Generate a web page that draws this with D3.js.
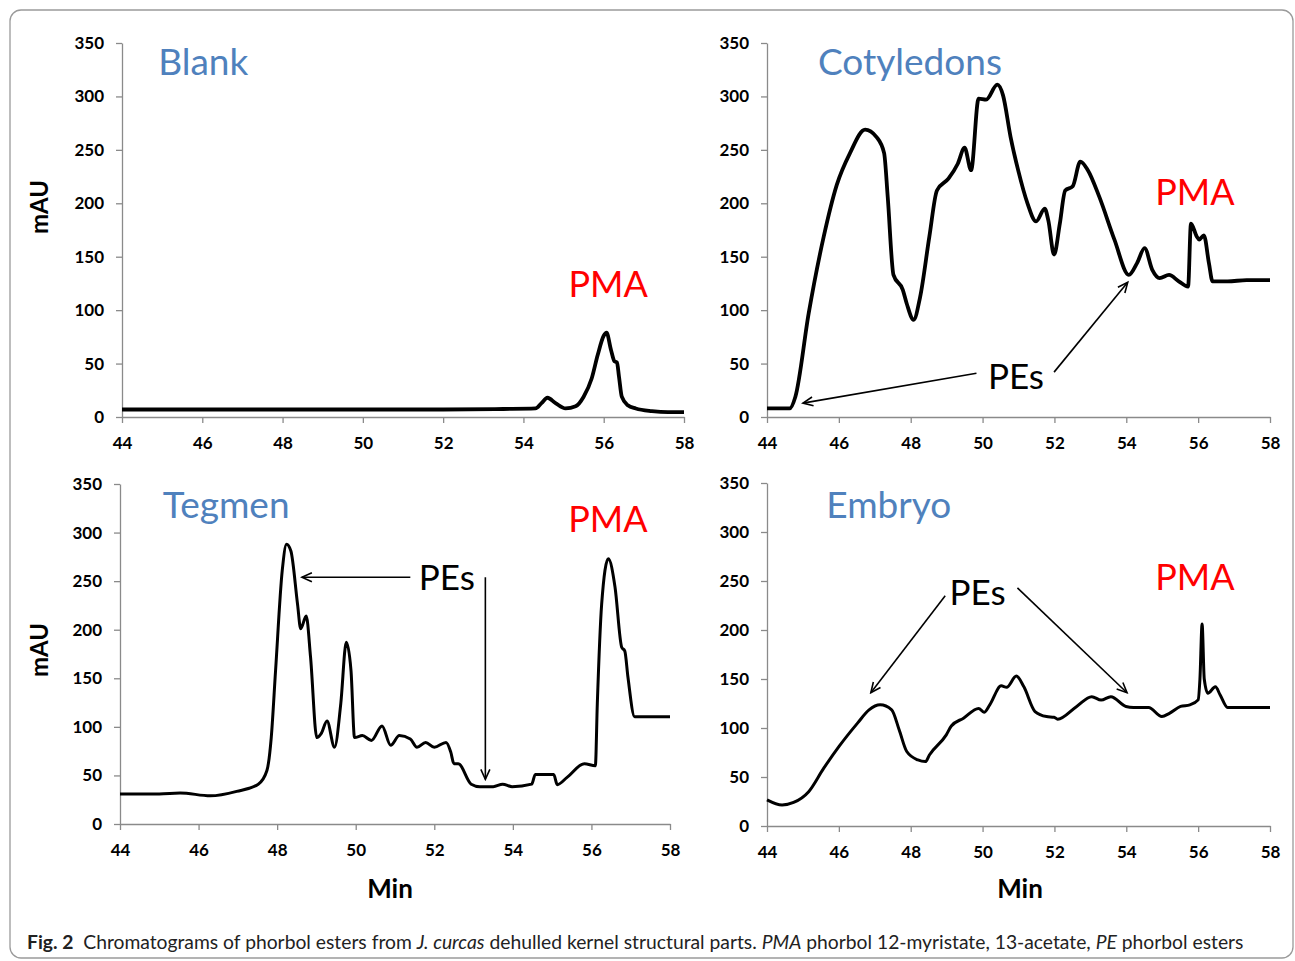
<!DOCTYPE html>
<html>
<head>
<meta charset="utf-8">
<script src="https://cdn.jsdelivr.net/npm/d3@7"></script>
<style>
  body { margin: 0; background: #fff; }
  svg { font-family: Lato, "Open Sans", sans-serif; }
</style>
</head>
<body>
<svg id="chart" width="1295" height="961"></svg>
<script>
// ticks shared by all four chromatograms
const minTicks = [44, 46, 48, 50, 52, 54, 56, 58];
const mauTicks = [0, 50, 100, 150, 200, 250, 300, 350];

// Blank
const blankMin = [44, 46, 48, 50, 52, 53.5, 54.3, 54.45, 54.6, 54.8, 55.05, 55.3, 55.5, 55.7, 55.85, 56.0, 56.07, 56.18, 56.27, 56.33, 56.38, 56.45, 56.6, 56.8, 57.2, 57.6, 58];
const blankMAU = [7, 7, 7, 7, 7, 7.5, 8, 13, 18, 13, 8, 10, 19, 36, 58, 76, 79, 63, 52, 51, 38, 19, 11, 8, 5.5, 4.5, 4.5];

// Cotyledons
const cotMin = [44, 44.63, 44.79, 45.16, 45.58, 45.94, 46.31, 46.73, 47.05, 47.26, 47.36, 47.52, 47.78, 47.89, 48.08, 48.26, 48.52, 48.73, 49.05, 49.31, 49.5, 49.68, 49.89, 50.1, 50.41, 50.57, 50.78, 50.99, 51.25, 51.49, 51.73, 51.83, 51.99, 52.15, 52.3, 52.51, 52.72, 52.93, 53.25, 53.67, 54.07, 54.3, 54.51, 54.72, 54.93, 55.19, 55.46, 55.72, 55.8, 55.96, 56.03, 56.16, 56.3, 56.4, 56.82, 57.35, 58];
const cotMAU = [8, 8, 19, 97, 169, 217, 247, 269, 262, 247, 206, 133, 119, 106, 91, 112, 169, 212, 223, 237, 252, 231, 298, 297, 311, 301, 262, 231, 200, 183, 195, 184, 152, 181, 212, 216, 239, 231, 206, 166, 133, 144, 158, 138, 130, 133, 127, 122, 181, 169, 166, 170, 144, 127, 127, 128, 128];

// Tegmen
const tegMin = [44, 45, 45.53, 46.3, 46.97, 47.52, 47.74, 47.85, 47.96, 48.13, 48.24, 48.35, 48.52, 48.6, 48.74, 48.85, 49.01, 49.12, 49.27, 49.46, 49.62, 49.76, 49.88, 49.97, 50.17, 50.4, 50.67, 50.89, 51.11, 51.39, 51.56, 51.78, 52.0, 52.3, 52.42, 52.5, 52.61, 52.94, 53.16, 53.5, 53.74, 53.98, 54.48, 54.57, 55.04, 55.13, 55.38, 55.82, 56.1, 56.15, 56.26, 56.43, 56.6, 56.77, 56.85, 56.93, 57.1, 57.37, 58];
const tegMAU = [31, 31, 32, 29, 33.6, 41, 55, 89, 158, 261, 288, 281, 226, 201, 214, 172, 89, 93, 106, 79, 124, 187, 158, 89, 91, 86, 101, 81, 91, 87.5, 79, 84, 79, 84, 74, 62, 62, 41, 38.4, 38.4, 41, 38.4, 41, 51, 51, 40.5, 48, 62, 60, 124, 226, 273, 244, 182, 178, 151, 110.5, 110.5, 110.5];

// Embryo
const embMin = [44, 44.42, 44.74, 45.16, 45.58, 46.0, 46.52, 46.84, 47.15, 47.47, 47.68, 47.89, 48.2, 48.41, 48.52, 48.99, 49.13, 49.47, 49.89, 50.04, 50.2, 50.52, 50.67, 50.94, 51.15, 51.46, 51.78, 51.99, 52.09, 52.62, 53.04, 53.3, 53.57, 53.99, 54.2, 54.62, 54.99, 55.2, 55.51, 55.77, 56.0, 56.05, 56.11, 56.17, 56.27, 56.48, 56.61, 56.82, 58];
const embMAU = [26.6, 21.4, 24, 35, 59, 81, 105, 118.5, 123.6, 118.5, 98, 76, 67.4, 65.7, 72.5, 93, 102, 110, 120, 116, 123.6, 143, 141.6, 153, 142, 116.8, 111.7, 111, 109, 122, 132, 128.5, 132, 122, 121, 121, 111.7, 115, 122, 123.6, 128.7, 150, 206, 150, 135.5, 142, 134, 121, 121];

const blue = '#4f81bd';
const red = '#ff0000';
const axisGrey = '#8a8a8a';

const svg = d3.select('#chart');

svg.append('defs').append('marker')
  .attr('id', 'arrow')
  .attr('viewBox', '-12 -6 14 12')
  .attr('refX', 0).attr('refY', 0)
  .attr('markerUnits', 'userSpaceOnUse')
  .attr('markerWidth', 14).attr('markerHeight', 12)
  .attr('orient', 'auto')
  .append('path')
  .attr('d', 'M-10,-4.5L0,0L-10,4.5')
  .attr('fill', 'none')
  .attr('stroke', '#000')
  .attr('stroke-width', 1.6);

// outer frame
svg.append('rect')
  .attr('x', 10).attr('y', 10)
  .attr('width', 1283).attr('height', 948)
  .attr('rx', 11)
  .attr('fill', 'none')
  .attr('stroke', '#9a9a9a')
  .attr('stroke-width', 1.3);

const panels = [
  { title: 'Blank', min: blankMin, mau: blankMAU, box: [122, 684, 43, 417], lw: 3.8,
    titleAt: [44.9, 320], pmaAt: [56.11, 112], pesAt: null, arrows: [], yTitle: [39, 207], xTitle: null },
  { title: 'Cotyledons', min: cotMin, mau: cotMAU, box: [767, 1270, 43, 417], lw: 3.8,
    titleAt: [45.42, 320], pmaAt: [55.91, 198], pesAt: [50.93, 26],
    arrows: [[49.83, 41, 45.0, 13], [51.99, 42, 54.04, 126]], yTitle: null, xTitle: null },
  { title: 'Tegmen', min: tegMin, mau: tegMAU, box: [120, 670, 484, 824], lw: 3,
    titleAt: [45.09, 315], pmaAt: [56.42, 300.6], pesAt: [52.32, 241],
    arrows: [[51.39, 254, 48.63, 254], [53.3, 254, 53.3, 46]], yTitle: [39, 650], xTitle: [390, 898] },
  { title: 'Embryo', min: embMin, mau: embMAU, box: [767, 1270, 483, 826], lw: 3,
    titleAt: [45.65, 314], pmaAt: [55.91, 241], pesAt: [49.86, 225.5],
    arrows: [[48.96, 235, 46.89, 136], [50.97, 243, 54.02, 136]], yTitle: null, xTitle: [1020, 898] }
];

panels.forEach(p => {
  const [x0, x1, y0, y1] = p.box;
  const x = d3.scaleLinear().domain([44, 58]).range([x0, x1]);
  const y = d3.scaleLinear().domain([0, 350]).range([y1, y0]);
  const g = svg.append('g');

  const yAxis = g.append('g')
    .attr('transform', `translate(${x0},0)`)
    .call(d3.axisLeft(y).tickValues(mauTicks).tickSize(6).tickSizeOuter(0).tickPadding(12));
  const xAxis = g.append('g')
    .attr('transform', `translate(0,${y1})`)
    .call(d3.axisBottom(x).tickValues(minTicks).tickSize(6).tickSizeOuter(0).tickPadding(14));

  [yAxis, xAxis].forEach(a => {
    a.select('.domain').attr('stroke', axisGrey).attr('stroke-width', 1.3);
    a.selectAll('.tick line').attr('stroke', axisGrey).attr('stroke-width', 1.3);
    a.selectAll('.tick text')
      .attr('fill', '#000')
      .style('font-family', 'Lato, sans-serif')
      .style('font-size', '17px')
      .style('font-weight', 'bold');
  });

  const line = d3.line()
    .x(i => x(p.min[i]))
    .y(i => y(p.mau[i]))
    .curve(d3.curveMonotoneX);

  g.append('path')
    .attr('d', line(d3.range(p.min.length)))
    .attr('fill', 'none')
    .attr('stroke', '#000')
    .attr('stroke-width', p.lw)
    .attr('stroke-linejoin', 'round');

  g.append('text')
    .attr('x', x(p.titleAt[0])).attr('y', y(p.titleAt[1]))
    .attr('fill', blue)
    .style('font-size', '37px')
    .text(p.title);

  g.append('text')
    .attr('x', x(p.pmaAt[0])).attr('y', y(p.pmaAt[1]))
    .attr('text-anchor', 'middle')
    .attr('fill', red)
    .style('font-size', '36px')
    .text('PMA');

  if (p.pesAt) {
    g.append('text')
      .attr('x', x(p.pesAt[0])).attr('y', y(p.pesAt[1]))
      .attr('text-anchor', 'middle')
      .attr('fill', '#000')
      .style('font-size', '35px')
      .text('PEs');
  }

  p.arrows.forEach(a => {
    g.append('line')
      .attr('x1', x(a[0])).attr('y1', y(a[1]))
      .attr('x2', x(a[2])).attr('y2', y(a[3]))
      .attr('stroke', '#000')
      .attr('stroke-width', 1.6)
      .attr('marker-end', 'url(#arrow)');
  });

  if (p.yTitle) {
    g.append('text')
      .attr('transform', `translate(${p.yTitle[0]},${p.yTitle[1]}) rotate(-90)`)
      .attr('text-anchor', 'middle')
      .attr('dy', '0.36em')
      .style('font-size', '24px')
      .style('font-weight', 'bold')
      .text('mAU');
  }
  if (p.xTitle) {
    g.append('text')
      .attr('x', p.xTitle[0]).attr('y', p.xTitle[1])
      .attr('text-anchor', 'middle')
      .style('font-size', '26px')
      .style('font-weight', 'bold')
      .text('Min');
  }
});

// caption
const caption = svg.append('text')
  .attr('x', 27).attr('y', 949)
  .style('font-size', '19px')
  .attr('fill', '#222');
[
  ['Fig. 2', 'bold', 'normal'],
  ['  Chromatograms of phorbol esters from ', 'normal', 'normal'],
  ['J. curcas', 'normal', 'italic'],
  [' dehulled kernel structural parts. ', 'normal', 'normal'],
  ['PMA', 'normal', 'italic'],
  [' phorbol 12-myristate, 13-acetate, ', 'normal', 'normal'],
  ['PE', 'normal', 'italic'],
  [' phorbol esters', 'normal', 'normal']
].forEach(s => {
  caption.append('tspan')
    .style('font-weight', s[1])
    .style('font-style', s[2])
    .style('white-space', 'pre')
    .text(s[0]);
});
const capW = caption.node().getComputedTextLength();
caption.attr('transform', `translate(27,0) scale(${1218 / capW},1) translate(-27,0)`);
</script>
</body>
</html>
